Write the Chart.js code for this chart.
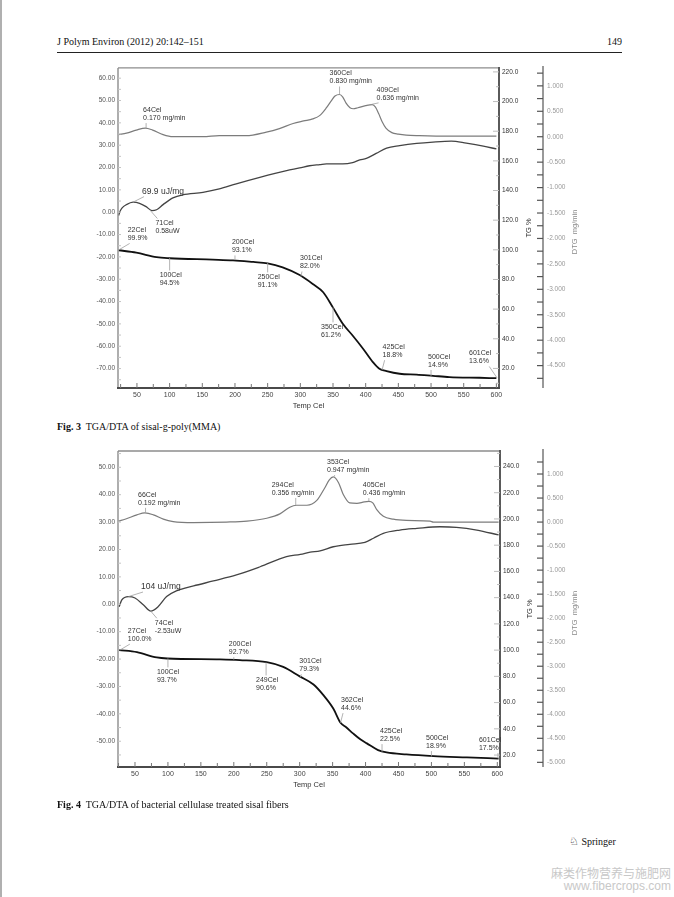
<!DOCTYPE html>
<html>
<head>
<meta charset="utf-8">
<script src="https://cdn.jsdelivr.net/npm/chart.js@4.4.0/dist/chart.umd.min.js"></script>
<style>
  html, body { margin: 0; padding: 0; background: #fff; }
  body { width: 674px; height: 897px; position: relative; overflow: hidden; font-family: "Liberation Serif", "Times New Roman", serif; color: #111; }
  .abs { position: absolute; white-space: nowrap; }
  .cap { font-size: 10px; }
  .mark { color: #c8c8c8; font-size: 12px; text-align: right; right: 3px; }
</style>
</head>
<body>
<div class="abs" style="left:0;top:0;width:2px;height:897px;background:#b0b0b0"></div>
<div class="abs" style="left:57px;top:36px;font-size:10px">J Polym Environ (2012) 20:142–151</div>
<div class="abs" style="right:52px;top:36px;font-size:10px">149</div>
<div class="abs" style="left:57px;top:52px;width:565px;height:1.4px;background:#222"></div>

<div class="abs" style="left:40px;top:60px"><canvas id="fig3" width="600" height="360"></canvas></div>
<div class="abs cap" style="left:57px;top:421px"><b>Fig. 3</b>&nbsp; TGA/DTA of sisal-g-poly(MMA)</div>

<div class="abs" style="left:40px;top:440px"><canvas id="fig4" width="600" height="360"></canvas></div>
<div class="abs cap" style="left:57px;top:799px"><b>Fig. 4</b>&nbsp; TGA/DTA of bacterial cellulase treated sisal fibers</div>

<div class="abs" style="left:569px;top:835px;font-size:10px"><span style="font-family:'DejaVu Sans';font-size:11px">&#9816;</span> Springer</div>
<div class="abs mark" style="top:864px;font-family:'Noto Sans CJK SC',sans-serif">麻类作物营养与施肥网</div>
<div class="abs mark" style="top:879px;font-family:'Liberation Sans',Arial,sans-serif">www.fibercrops.com</div>

<script>
const FONT = "'Liberation Sans', Arial, sans-serif";

// Fig. 3 - sisal-g-poly(MMA)
const fig3DtgTemp = [22, 34, 49, 63, 74, 90, 105, 151, 176, 217, 248, 268, 289, 305, 319, 330, 340, 347, 353, 360, 365, 370, 376, 381, 388, 400, 410, 415, 420, 425, 431, 440, 450, 462, 482, 528, 600];
const fig3DtgVal = [0.04, 0.07, 0.13, 0.17, 0.13, 0.04, 0.00, 0.00, 0.02, 0.02, 0.09, 0.16, 0.26, 0.31, 0.35, 0.42, 0.57, 0.70, 0.80, 0.83, 0.78, 0.66, 0.57, 0.55, 0.57, 0.61, 0.63, 0.58, 0.45, 0.30, 0.17, 0.08, 0.05, 0.03, 0.02, 0.01, 0.01];
const fig3DtaTemp = [22, 24, 27, 34, 44, 54, 64, 73, 80, 90, 105, 120, 151, 176, 202, 238, 279, 299, 314, 330, 340, 365, 380, 391, 401, 416, 432, 452, 478, 503, 531, 554, 580, 600];
const fig3DtaVal = [-1.5, 0.3, 1.8, 3.4, 4.5, 4.0, 2.5, 0.7, 1.1, 3.4, 6.4, 7.8, 8.9, 10.4, 12.7, 15.6, 18.6, 19.8, 20.8, 21.3, 21.6, 21.6, 22.2, 23.4, 24.1, 26.3, 28.7, 29.8, 30.8, 31.4, 31.8, 30.9, 29.6, 28.3];
const fig3TgTemp = [22, 49, 80, 100, 166, 197, 228, 250, 273, 299, 319, 335, 350, 365, 380, 396, 411, 421, 432, 452, 478, 503, 528, 574, 600];
const fig3TgVal = [99.7, 98.1, 95.0, 94.3, 93.4, 92.9, 91.8, 90.9, 88.2, 83.0, 77.0, 71.4, 61.0, 50.1, 42.2, 33.3, 24.3, 19.8, 18.2, 16.4, 15.8, 15.0, 14.2, 13.7, 13.4];

// Fig. 4 - bacterial cellulase treated sisal
const fig4DtgTemp = [25, 37, 53, 65, 78, 93, 108, 139, 189, 220, 250, 270, 285, 295, 311, 326, 338, 345, 351, 359, 366, 376, 387, 398, 405, 411, 417, 427, 442, 462, 498, 503, 602];
const fig4DtgVal = [0.02, 0.07, 0.15, 0.19, 0.15, 0.06, 0.01, -0.01, 0.00, 0.02, 0.08, 0.17, 0.31, 0.35, 0.35, 0.45, 0.71, 0.88, 0.94, 0.82, 0.58, 0.40, 0.39, 0.42, 0.43, 0.40, 0.26, 0.12, 0.06, 0.035, 0.02, 0.00, 0.00];
const fig4DtaTemp = [26, 30, 40, 50, 63, 74, 85, 98, 113, 139, 169, 204, 240, 280, 301, 316, 331, 351, 376, 399, 412, 427, 452, 478, 513, 538, 569, 602];
const fig4DtaVal = [-0.9, 1.6, 2.8, 2.3, -0.3, -2.5, -0.9, 2.8, 4.9, 6.7, 8.5, 10.7, 13.7, 17.4, 18.2, 19.0, 19.5, 21.0, 21.9, 22.6, 24.1, 25.9, 27.1, 27.7, 28.3, 28.1, 27.1, 25.3];
const fig4TgTemp = [26, 53, 83, 99, 179, 209, 250, 275, 300, 321, 336, 351, 362, 371, 381, 392, 402, 419, 432, 462, 503, 554, 602];
const fig4TgVal = [100.0, 98.4, 94.4, 93.6, 92.9, 92.4, 90.8, 87.2, 80.0, 73.8, 65.7, 55.5, 44.6, 41.0, 36.5, 32.0, 28.9, 23.8, 22.0, 20.5, 19.2, 18.2, 17.3];

// axis ranges [min, max]
const fig3Temp = [21, 604];
const fig3Dta = [-78.7, 64.6];
const fig3Tg = [6.8, 222.7];
const fig3Dtg = [-4.94, 1.353];
const fig4Temp = [24.2, 604.1];
const fig4Dta = [-59.4, 55.95];
const fig4Tg = [10.9, 251.8];
const fig4Dtg = [-5.097, 1.479];

// peak / point labels
const fig3Notes = [
  { axis: "yDTG", t: 64, v: 0.17, lines: ["64Cel", "0.170 mg/min"], dx: -3, dy: -18 },
  { axis: "yDTG", t: 360, v: 0.83, lines: ["360Cel", "0.830 mg/min"], dx: -10, dy: -21 },
  { axis: "yDTG", t: 409, v: 0.636, lines: ["409Cel", "0.636 mg/min"], dx: 5, dy: -14.5 },
  { axis: "yL", t: 44, v: 4.5, lines: ["69.9 uJ/mg"], dx: 9, dy: -10.5, big: true },
  { axis: "yL", t: 71, v: 0.58, lines: ["71Cel", "0.58uW"], dx: 4.7, dy: 12.6 },
  { axis: "yTG", t: 22, v: 99.9, lines: ["22Cel", "99.9%"], dx: 9, dy: -19.5 },
  { axis: "yTG", t: 100, v: 94.5, lines: ["100Cel", "94.5%"], dx: -10, dy: 17.5 },
  { axis: "yTG", t: 200, v: 93.1, lines: ["200Cel", "93.1%"], dx: -3, dy: -17.6 },
  { axis: "yTG", t: 250, v: 91.1, lines: ["250Cel", "91.1%"], dx: -10, dy: 14.4 },
  { axis: "yTG", t: 301, v: 82.0, lines: ["301Cel", "82.0%"], dx: -1, dy: -18 },
  { axis: "yTG", t: 350, v: 61.2, lines: ["350Cel", "61.2%"], dx: -12, dy: 20 },
  { axis: "yTG", t: 425, v: 18.8, lines: ["425Cel", "18.8%"], dx: 0.6, dy: -23 },
  { axis: "yTG", t: 500, v: 14.9, lines: ["500Cel", "14.9%"], dx: -3, dy: -19 },
  { axis: "yTG", t: 601, v: 13.6, lines: ["601Cel", "13.6%"], dx: -28, dy: -24.5 }
];
const fig4Notes = [
  { axis: "yDTG", t: 66, v: 0.192, lines: ["66Cel", "0.192 mg/min"], dx: -7.5, dy: -18 },
  { axis: "yDTG", t: 294, v: 0.356, lines: ["294Cel", "0.356 mg/min"], dx: -24, dy: -20 },
  { axis: "yDTG", t: 353, v: 0.947, lines: ["353Cel", "0.947 mg/min"], dx: -7.6, dy: -14.5 },
  { axis: "yDTG", t: 405, v: 0.436, lines: ["405Cel", "0.436 mg/min"], dx: -6, dy: -16 },
  { axis: "yL", t: 40, v: 2.8, lines: ["104 uJ/mg"], dx: 12.6, dy: -9.6, big: true },
  { axis: "yL", t: 74, v: -2.53, lines: ["74Cel", "-2.53uW"], dx: 4, dy: 12 },
  { axis: "yTG", t: 27, v: 100.0, lines: ["27Cel", "100.0%"], dx: 8, dy: -19 },
  { axis: "yTG", t: 100, v: 93.7, lines: ["100Cel", "93.7%"], dx: -11, dy: 14 },
  { axis: "yTG", t: 200, v: 92.7, lines: ["200Cel", "92.7%"], dx: -5, dy: -15.5 },
  { axis: "yTG", t: 249, v: 90.6, lines: ["249Cel", "90.6%"], dx: -10, dy: 18 },
  { axis: "yTG", t: 301, v: 79.3, lines: ["301Cel", "79.3%"], dx: -1, dy: -16 },
  { axis: "yTG", t: 362, v: 44.6, lines: ["362Cel", "44.6%"], dx: 0.5, dy: -22.7 },
  { axis: "yTG", t: 425, v: 22.5, lines: ["425Cel", "22.5%"], dx: -2, dy: -20.7 },
  { axis: "yTG", t: 500, v: 18.9, lines: ["500Cel", "18.9%"], dx: -5.4, dy: -18.4 },
  { axis: "yTG", t: 601, v: 17.5, lines: ["601Cel", "17.5%"], dx: -19, dy: -18.3 }
];

function zip(ts, vs) {
  return ts.map((t, i) => ({ x: t, y: vs[i] }));
}

function seg(ctx, x1, y1, x2, y2, color, w) {
  ctx.beginPath();
  ctx.strokeStyle = color;
  ctx.lineWidth = w;
  ctx.moveTo(x1, y1);
  ctx.lineTo(x2, y2);
  ctx.stroke();
}

function eachStep(min, max, step, fn) {
  for (let k = Math.ceil(min / step - 1e-9); k * step <= max + 1e-9; k++) fn(k * step, k);
}

function makeDecor(notes) {
  return {
    id: "decor",
    afterDatasetsDraw(chart) {
      const { ctx, chartArea: a, scales } = chart;
      const sx = scales.x, sl = scales.yL, st = scales.yTG, sd = scales.yDTG;
      ctx.save();

      // frame
      seg(ctx, a.left, a.top, a.right, a.top, "#8c8c8c", 1.4);
      seg(ctx, a.left, a.top, a.left, a.bottom, "#8c8c8c", 1.4);
      seg(ctx, a.right, a.top - 1, a.right, a.bottom + 1, "#5a5a5a", 2);
      seg(ctx, a.left - 1, a.bottom, a.right + 1, a.bottom, "#4a4a4a", 1.8);
      // DTG axis line
      seg(ctx, sd.left, a.top - 2, sd.left, a.bottom, "#555", 1.2);

      // tick marks
      eachStep(sx.min, sx.max, 25, (v, k) => {
        const px = sx.getPixelForValue(v);
        seg(ctx, px, a.bottom, px, a.bottom - (k % 2 === 0 ? 5 : 4), "#777", 1);
      });
      eachStep(sl.min, sl.max, 5, (v) => {
        const py = sl.getPixelForValue(v);
        seg(ctx, a.left, py, a.left + 3, py, "#c4c4c4", 1);
      });
      eachStep(st.min, st.max, 10, (v, k) => {
        const py = st.getPixelForValue(v);
        seg(ctx, a.right - (k % 2 === 0 ? 6 : 3), py, a.right, py, "#bdbdbd", 1);
      });
      eachStep(sd.min, sd.max, 0.25, (v) => {
        const py = sd.getPixelForValue(v);
        seg(ctx, sd.left - 6, py, sd.left, py, "#555", 1.2);
      });

      // axis titles
      const midY = (a.top + a.bottom) / 2;
      ctx.textAlign = "center";
      ctx.textBaseline = "middle";
      ctx.fillStyle = "#333";
      ctx.font = "7.5px " + FONT;
      ctx.fillText("Temp Cel", (a.left + a.right) / 2, a.bottom + 18);
      ctx.save();
      ctx.translate(st.left + 30, midY);
      ctx.rotate(-Math.PI / 2);
      ctx.fillText("TG %", 0, 0);
      ctx.restore();
      ctx.save();
      ctx.translate(sd.left + 32, midY + 4);
      ctx.rotate(-Math.PI / 2);
      ctx.fillStyle = "#8a8a8a";
      ctx.fillText("DTG  mg/min", 0, 0);
      ctx.restore();

      // notes with leader lines
      ctx.textAlign = "left";
      notes.forEach((n) => {
        const sc = scales[n.axis];
        const ax = sx.getPixelForValue(n.t);
        const ay = sc.getPixelForValue(n.v);
        const tx = ax + n.dx;
        const ty = ay + n.dy;
        const lh = 8;
        ctx.font = (n.big ? "8.5px " : "7px ") + FONT;
        const w = Math.max(...n.lines.map((s) => ctx.measureText(s).width));
        const ex = Math.min(Math.max(ax, tx + 2), tx + w - 2);
        const ey = n.dy < 0 ? ty + lh * (n.lines.length - 1) + 5 : ty - 5;
        seg(ctx, ax, ay, ex, ey, "#a0a0a0", 0.8);
        ctx.fillStyle = "#333";
        n.lines.forEach((s, i) => ctx.fillText(s, tx, ty + i * lh));
      });

      ctx.restore();
    }
  };
}

function fixed(d) {
  return (v) => (Math.abs(v) < 1e-9 ? 0 : v).toFixed(d);
}

function buildChart(id, f) {
  const tickFont = { family: FONT, size: 6.5 };
  return new Chart(document.getElementById(id), {
    type: "line",
    data: {
      datasets: [
        { label: "DTG", data: zip(f.dtgT, f.dtgV), yAxisID: "yDTG", borderColor: "#7c7c7c", borderWidth: 1.2 },
        { label: "DTA", data: zip(f.dtaT, f.dtaV), yAxisID: "yL", borderColor: "#444", borderWidth: 1.3 },
        { label: "TG", data: zip(f.tgT, f.tgV), yAxisID: "yTG", borderColor: "#111", borderWidth: 1.8 }
      ]
    },
    options: {
      responsive: false,
      animation: false,
      elements: {
        point: { radius: 0 },
        line: { cubicInterpolationMode: "monotone", fill: false }
      },
      layout: { padding: { top: f.padTop, left: 0, right: 0, bottom: 0 } },
      plugins: { legend: { display: false }, tooltip: { enabled: false } },
      scales: {
        x: {
          type: "linear", position: "bottom", min: f.temp[0], max: f.temp[1],
          afterFit: (s) => { s.height = f.xH; },
          grid: { display: false, drawTicks: false }, border: { display: false },
          ticks: { stepSize: 50, includeBounds: false, autoSkip: false, maxRotation: 0, padding: 3, color: "#444", font: { family: FONT, size: 7 } }
        },
        yL: {
          type: "linear", position: "left", min: f.dta[0], max: f.dta[1],
          afterFit: (s) => { s.width = 78; },
          grid: { display: false, drawTicks: false }, border: { display: false },
          ticks: { stepSize: 10, includeBounds: false, autoSkip: false, padding: 3, color: "#555", font: tickFont, callback: fixed(2) }
        },
        yTG: {
          type: "linear", position: "right", weight: 1, min: f.tg[0], max: f.tg[1],
          afterFit: (s) => { s.width = f.tgW; },
          grid: { display: false, drawTicks: false }, border: { display: false },
          ticks: { stepSize: 20, includeBounds: false, autoSkip: false, padding: 3, color: "#333", font: tickFont, callback: fixed(1) }
        },
        yDTG: {
          type: "linear", position: "right", weight: 2, min: f.dtg[0], max: f.dtg[1],
          afterFit: (s) => { s.width = 600 - 78 - f.plotW - f.tgW; },
          grid: { display: false, drawTicks: false }, border: { display: false },
          ticks: { stepSize: 0.5, includeBounds: false, autoSkip: false, padding: 4, color: "#999", font: tickFont, callback: fixed(3) }
        }
      }
    },
    plugins: [makeDecor(f.notes)]
  });
}

buildChart("fig3", {
  dtgT: fig3DtgTemp, dtgV: fig3DtgVal, dtaT: fig3DtaTemp, dtaV: fig3DtaVal, tgT: fig3TgTemp, tgV: fig3TgVal,
  temp: fig3Temp, dta: fig3Dta, tg: fig3Tg, dtg: fig3Dtg, notes: fig3Notes,
  padTop: 7, xH: 32, tgW: 44, plotW: 381
});

buildChart("fig4", {
  dtgT: fig4DtgTemp, dtgV: fig4DtgVal, dtaT: fig4DtaTemp, dtaV: fig4DtaVal, tgT: fig4TgTemp, tgV: fig4TgVal,
  temp: fig4Temp, dta: fig4Dta, tg: fig4Tg, dtg: fig4Dtg, notes: fig4Notes,
  padTop: 11, xH: 33, tgW: 43, plotW: 382
});
</script>
</body>
</html>
